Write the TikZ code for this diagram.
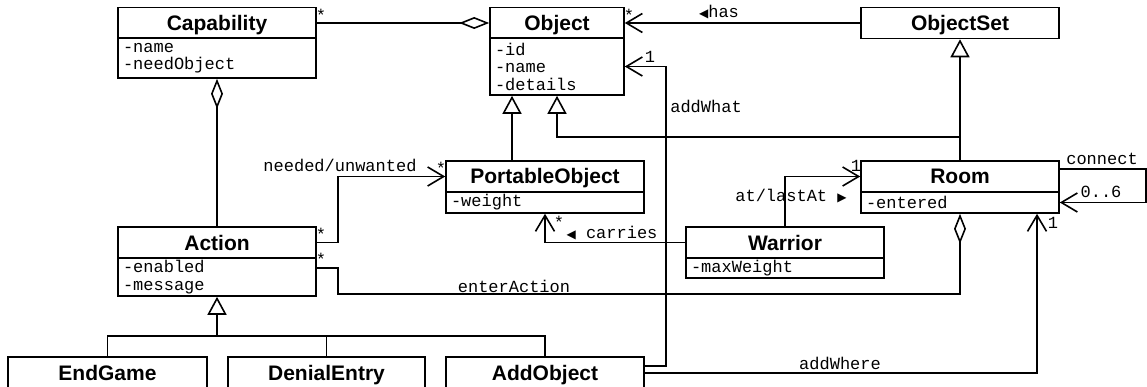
\documentclass[tikz,border=0pt]{standalone}
\usepackage{fontspec}
\setmainfont{Liberation Sans}
\setmonofont{Liberation Mono}
\newfontfamily\symfont{DejaVu Sans}
\newcommand{\ltri}{{\symfont\fontsize{12}{12}\selectfont ◀}}
\newcommand{\rtri}{{\symfont\fontsize{12}{12}\selectfont ▶}}
\usetikzlibrary{arrows.meta}
\begin{document}
\begin{tikzpicture}[x=1pt,y=-1pt,
  lw/.style={line width=1.6pt},
  title/.style={draw,lw,rectangle,inner sep=0pt,text height=15pt,text depth=0pt,
    font=\fontsize{21}{24}\selectfont\bfseries,minimum height=31pt},
  attr/.style={draw,lw,rectangle,inner xsep=5pt,inner ysep=0pt,align=left,
    font=\fontsize{17}{17.5}\selectfont\ttfamily},
  lbl/.style={inner sep=0pt,anchor=base,font=\fontsize{17}{17.5}\selectfont\ttfamily},
  star/.style={inner sep=0pt,anchor=north,font=\fontsize{17}{17.5}\selectfont\ttfamily},
  conn/.style={lw,line join=miter},
  nav/.style={conn,-{Straight Barb[length=16pt,width=19pt,line width=1.6pt]}},
  gen/.style={conn,-{Triangle[open,length=18pt,width=19pt,fill=white]}},
  aggend/.style={conn,-{Diamond[open,length=30pt,width=12pt,fill=white]}},
  aggstart/.style={conn,{Diamond[open,length=30pt,width=12pt,fill=white]}-},
]
\useasboundingbox (0,0) rectangle (1147,387);
\clip (0,0) rectangle (1147,387);
\fill[white] (0,0) rectangle (1147,387);

% classes
\node[title,minimum width=198pt] (capT) at (217,23) {Capability};
\node[attr,text width=188pt,minimum height=40pt] (capA) at (217,58) {-name\\-needObject};
\node[title,minimum width=134pt] (objT) at (557,23) {Object};
\node[attr,text width=124pt,minimum height=57pt] (objA) at (557,66.5) {-id\\-name\\-details};
\node[title,minimum width=198pt] (osT) at (960,23) {ObjectSet};
\node[title,minimum width=198pt] (roomT) at (960,176.5) {Room};
\node[attr,text width=188pt,minimum height=21pt] (roomA) at (960,202.5) {-entered};
\node[title,minimum width=198pt] (poT) at (545,176.5) {PortableObject};
\node[attr,text width=188pt,minimum height=21pt] (poA) at (545,202.5) {-weight};
\node[title,minimum width=198pt] (actT) at (217,242.5) {Action};
\node[attr,text width=188pt,minimum height=38pt] (actA) at (217,277) {-enabled\\-message};
\node[title,minimum width=198pt] (warT) at (785,242.5) {Warrior};
\node[attr,text width=188pt,minimum height=20pt] (warA) at (785,268) {-maxWeight};
\node[title,minimum width=199pt] (endT) at (107.5,372.5) {EndGame};
\node[title,minimum width=197pt] (denT) at (326.5,372.5) {DenialEntry};
\node[title,minimum width=198pt] (addT) at (545,372.5) {AddObject};

% associations
\draw[aggend] (capT.east) -- (objT.west);
\draw[nav] (osT.west) -- (objT.east);
\draw[aggstart] (capA.south) -- (actT.north);

% generalizations
\draw[gen] ([xshift=-33pt]poT.north) -- ([xshift=-45pt]objA.south);
\draw[gen] (roomT.north) -- (osT.south);
\draw[gen] (roomT.north) -- ++(0,-23) -| (objA.south);
\coordinate (bar) at (217,336);
\draw[conn] (endT.north) |- (bar) -| (addT.north);
\draw[conn] (denT.north) -- (denT.north |- bar);
\draw[gen] (bar) -- (actA.south);

% other associations
\draw[nav] ([yshift=6.5pt]addT.east) -- ++(21,0) |- (objA.east);
\draw[nav] ([yshift=-0.5pt]addT.east) -| ([xshift=77pt]roomA.south);
\draw[nav] (actT.east) -- ++(21,0) |- (poT.west);
\draw[aggend] ([yshift=9pt]actA.east) -- ++(21,0) -- ++(0,26) -| (roomA.south);
\draw[nav] (warT.west) -| (poA.south);
\draw[nav] (warT.north) |- (roomT.west);
\draw[nav] ([yshift=7.5pt]roomT.east) -- ++(86,0) |- (roomA.east);

% labels
\node[star] (s1) at (321,9) {*};
\node[star] (s2) at (629,9) {*};
\node[star] (s3) at (441,162) {*};
\node[star] (s4) at (321,228) {*};
\node[star] (s5) at (321,253) {*};
\node[star] (s6) at (559,216) {*};
\node[lbl] (lhas) at (719,18) {\ltri has};
\node[lbl] (l1a) at (650,63) {1};
\node[lbl] (lwhat) at (706,113) {addWhat};
\node[lbl] (lneed) at (340,172) {needed/unwanted};
\node[lbl] (lcar) at (612,239) {\ltri{} carries};
\node[lbl] (lat) at (791,202) {at/lastAt \rtri};
\node[lbl] (l1b) at (856,172) {1};
\node[lbl] (lcon) at (1102,165) {connect};
\node[lbl] (l06) at (1101,198) {0..6};
\node[lbl] (l1c) at (1053,229) {1};
\node[lbl] (lenter) at (514,292) {enterAction};
\node[lbl] (lwhere) at (840,369) {addWhere};
\end{tikzpicture}
\end{document}
